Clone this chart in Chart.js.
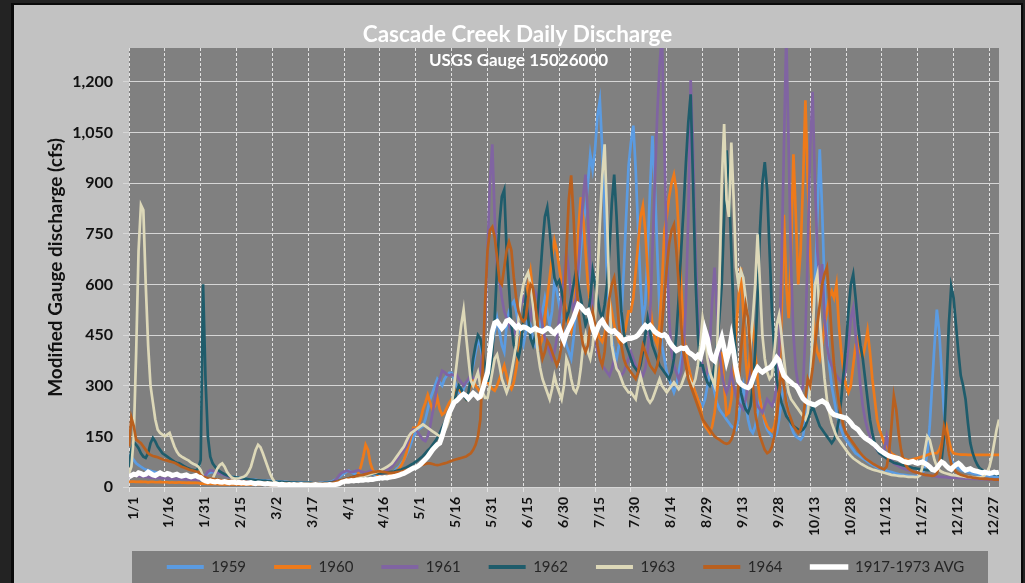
<!DOCTYPE html>
<html>
<head>
<meta charset="utf-8">
<title>Cascade Creek Daily Discharge</title>
<script src="https://cdn.jsdelivr.net/npm/chart.js@4.4.1/dist/chart.umd.min.js"></script>
<style>
  html, body { margin: 0; padding: 0; background: #1f1f1f; overflow: hidden; }
  canvas { display: block; }
</style>
</head>
<body>
<canvas id="chart" width="1025" height="583"></canvas>
<script>
// Axis ticks: day-of-year positions (every 15 days) and their date labels
const xTickDays = [0, 15, 30, 45, 60, 75, 90, 105, 120, 135, 150, 165, 180, 195, 210, 225, 240, 255, 270, 285, 300, 315, 330, 345, 360];
const xTickLabels = ['1/1', '1/16', '1/31', '2/15', '3/2', '3/17', '4/1', '4/16', '5/1', '5/16', '5/31', '6/15', '6/30', '7/15', '7/30', '8/14', '8/29', '9/13', '9/28', '10/13', '10/28', '11/12', '11/27', '12/12', '12/27'];
const yTickValues = [0, 150, 300, 450, 600, 750, 900, 1050, 1200];

const seriesNames = ['1959', '1960', '1961', '1962', '1963', '1964', '1917-1973 AVG'];

// Daily discharge (cfs), Jan 1 .. Dec 31, 15 days per line
const q1959 = [
  95,90,80,70,65,60,55,52,50,48,46,44,42,40,40,
  38,37,36,35,34,33,33,32,32,31,30,30,29,29,28,
  28,30,35,40,42,45,44,42,40,38,36,34,32,30,29,
  28,27,26,25,24,23,22,22,21,20,20,19,19,18,18,
  17,17,16,16,15,15,15,14,14,14,13,13,13,12,12,
  12,12,11,11,11,12,12,13,14,15,17,20,25,30,35,
  40,45,48,44,40,38,36,35,34,36,40,42,38,35,33,
  32,30,30,32,35,40,45,55,60,70,80,95,110,130,150,
  160,170,175,180,200,230,260,280,300,320,310,300,320,330,338,
  338,320,300,280,270,290,310,314,330,360,400,433,420,380,360,
  340,380,420,460,500,460,420,400,480,520,540,550,520,480,440,
  420,460,500,480,440,420,440,480,520,560,520,480,520,611,580,
  540,500,460,420,400,380,440,520,600,700,780,820,900,985,940,
  1000,1100,1145,1000,800,620,500,440,400,380,420,500,640,800,950,
  1020,1070,940,760,600,500,540,700,880,1040,900,700,520,420,380,
  340,320,300,280,300,340,380,420,400,360,330,300,280,260,250,
  240,260,300,340,320,280,250,230,220,210,200,190,180,175,170,
  200,260,300,250,200,170,160,180,220,260,230,190,170,160,150,
  145,160,200,260,300,260,220,180,160,150,145,140,150,200,260,
  340,450,600,800,1000,820,600,450,360,300,260,220,190,170,150,
  140,130,120,110,100,95,90,85,80,75,70,66,62,58,55,
  52,50,48,46,44,42,40,38,37,36,35,34,33,32,32,
  32,34,40,60,100,180,300,420,525,460,340,220,140,100,80,
  70,60,55,50,48,46,44,42,40,38,37,36,35,34,33,
  32,32,31,31,30
];

const q1960 = [
  15,16,16,15,15,16,15,15,14,15,15,14,14,15,14,
  14,14,13,14,13,13,14,13,13,12,13,12,12,12,12,
  10,10,10,9,9,9,9,9,8,8,8,8,8,8,8,
  8,8,7,7,7,7,7,7,7,7,7,7,7,7,6,
  6,6,6,6,6,6,6,6,6,6,6,6,6,6,6,
  6,6,6,6,6,6,6,7,7,7,8,8,9,10,12,
  14,16,18,20,24,30,40,60,90,125,110,70,50,40,35,
  32,30,30,32,35,38,42,48,55,65,80,100,125,150,175,
  175,180,200,230,250,273,250,228,240,264,230,214,220,235,250,
  260,270,285,290,280,270,260,280,300,315,300,290,280,300,315,
  310,300,290,285,300,320,340,360,330,300,290,310,350,400,450,
  500,560,600,640,580,520,460,420,440,500,560,620,680,730,700,
  650,600,560,520,480,460,500,600,760,858,800,700,600,540,520,
  480,460,440,430,450,500,560,520,480,450,430,420,440,480,520,
  520,560,640,720,800,833,760,640,540,480,440,420,480,600,760,
  800,860,900,925,880,760,600,460,400,360,330,300,280,260,240,
  200,180,170,160,180,220,280,340,400,300,214,220,260,340,460,
  560,650,520,380,300,420,480,400,320,260,220,200,180,170,165,
  180,220,300,500,806,600,500,700,985,800,600,700,900,1145,900,
  700,540,440,400,380,420,480,520,560,580,560,600,480,400,340,
  300,280,300,360,420,440,400,380,420,463,400,320,260,200,170,
  150,130,120,110,100,95,90,88,86,84,82,80,80,82,84,
  86,88,90,92,95,98,100,100,100,110,130,160,180,140,110,
  100,98,97,96,96,96,95,95,95,95,95,95,95,95,95,
  95,95,95,95,95
];

const q1961 = [
  30,32,34,33,32,31,30,30,29,28,28,27,27,26,26,
  26,25,25,25,24,24,24,23,23,23,22,22,22,22,21,
  21,25,35,45,50,48,45,42,40,38,35,32,30,28,26,
  24,22,20,19,18,17,16,15,15,14,14,13,13,12,12,
  12,11,11,11,10,10,10,10,9,9,9,9,9,9,9,
  9,9,9,9,9,9,10,10,11,12,14,18,25,35,42,
  45,48,46,44,45,48,50,46,44,42,45,48,44,42,40,
  38,40,45,50,55,60,70,80,90,100,110,120,140,160,170,
  170,160,150,140,136,150,180,220,260,300,320,344,340,333,330,
  333,330,333,320,310,300,310,320,330,323,320,323,340,400,500,
  700,900,1015,800,650,610,560,520,500,480,460,450,470,500,540,
  560,540,520,500,540,576,560,520,480,440,420,400,380,400,440,
  500,560,620,700,640,560,520,560,650,760,860,925,800,640,520,
  450,400,380,360,350,340,330,350,380,360,340,330,340,360,380,
  400,380,360,350,340,330,350,400,500,700,900,1100,1250,1340,1000,
  700,500,400,360,340,320,340,400,550,800,1205,1000,700,500,400,
  350,330,340,420,550,650,520,400,340,300,280,300,340,300,270,
  250,240,230,260,300,340,300,260,240,230,220,240,260,250,240,
  260,300,400,650,1000,1340,1000,650,450,350,300,280,300,450,700,
  1000,1170,900,700,600,660,500,420,380,360,340,330,320,310,320,
  350,420,500,530,450,380,300,240,200,170,150,130,120,110,100,
  95,110,150,110,80,70,66,62,58,55,52,50,48,46,44,
  42,40,38,36,35,34,33,32,31,30,30,29,29,28,28,
  28,27,27,26,26,25,25,25,24,24,24,23,23,23,22,
  22,22,22,21,21
];

const q1962 = [
  60,110,133,125,115,100,90,86,100,130,145,135,120,110,100,
  95,90,85,80,75,72,70,66,62,58,55,52,50,48,55,
  80,600,320,150,90,70,60,52,46,42,38,35,32,30,29,
  28,27,26,25,24,23,22,21,20,20,19,18,18,17,17,
  16,16,15,15,15,14,14,14,13,13,13,12,12,12,12,
  12,12,11,11,11,11,11,12,12,13,14,15,16,18,20,
  22,24,26,28,30,32,33,34,35,36,37,38,39,40,40,
  40,41,42,43,44,45,46,48,50,52,55,58,62,66,70,
  75,80,86,92,100,108,115,125,135,145,160,175,190,205,220,
  235,250,280,300,290,270,260,280,320,380,420,450,440,400,360,
  315,315,400,500,650,780,860,880,700,590,480,420,400,383,420,
  500,560,500,440,420,450,520,620,720,800,828,760,680,620,600,
  611,580,540,500,520,560,600,640,600,560,520,480,500,560,640,
  600,560,520,500,540,600,700,840,925,800,640,520,460,420,400,
  380,360,350,340,360,400,450,500,460,420,400,380,360,350,340,
  330,320,340,380,450,560,700,820,960,1080,1163,900,620,450,360,
  360,330,310,300,320,360,420,500,600,800,997,900,700,500,380,
  320,280,250,230,220,240,300,400,560,760,900,962,880,700,520,
  400,320,280,250,230,210,200,190,180,175,170,165,170,180,200,
  220,240,220,200,180,170,160,150,140,130,140,160,200,260,340,
  420,520,600,630,560,480,420,380,320,260,200,160,130,110,100,
  95,90,85,80,76,72,70,68,66,64,62,60,58,56,55,
  54,53,52,51,50,50,50,52,55,60,80,150,300,480,594,
  560,480,400,330,300,260,190,130,100,80,65,55,50,46,44,
  42,40,38,37,36
];

const q1963 = [
  40,60,150,400,700,835,820,600,420,300,250,200,170,160,155,
  150,155,160,140,120,105,95,90,86,82,78,72,68,65,60,
  50,30,22,20,20,25,40,55,65,70,60,45,35,28,25,
  25,26,28,30,35,45,60,85,110,125,118,100,80,60,40,
  25,15,12,10,9,8,8,7,7,7,6,6,6,6,6,
  6,6,6,6,6,6,6,6,6,6,7,8,10,12,15,
  18,20,22,24,25,26,28,30,32,34,36,38,40,42,45,
  48,52,56,60,65,70,80,90,100,110,120,135,150,160,165,
  170,175,180,185,180,175,170,165,160,155,150,155,165,180,200,
  240,300,360,420,480,525,450,380,315,300,320,340,300,280,264,
  264,300,340,380,392,360,320,300,280,300,340,380,420,500,560,
  600,620,635,600,540,470,400,353,320,300,280,260,290,330,300,
  280,260,300,380,360,320,290,280,300,350,420,450,400,380,420,
  500,620,780,920,1015,800,560,420,380,350,340,320,300,290,280,
  280,270,260,300,330,300,280,260,250,260,280,300,320,300,290,
  280,290,300,310,300,290,300,320,340,330,310,300,320,360,420,
  500,460,380,340,320,300,400,600,900,1075,850,800,1020,850,650,
  600,640,620,560,480,420,500,600,748,600,450,380,340,320,330,
  400,480,510,450,380,320,280,260,250,240,230,220,210,200,220,
  300,450,600,630,500,400,320,260,220,190,170,150,140,130,120,
  110,100,92,85,80,75,70,66,62,58,55,52,50,48,46,
  44,42,40,38,36,35,34,33,32,32,31,30,30,30,29,
  30,35,60,110,150,140,110,80,60,50,45,42,40,38,36,
  35,34,33,32,31,30,30,29,29,28,28,28,30,35,45,
  60,90,130,170,200
];

const q1964 = [
  120,205,180,140,135,130,120,110,100,95,92,90,88,85,82,
  80,78,76,74,72,68,64,60,58,55,52,50,48,46,45,
  35,30,28,26,25,24,23,22,21,20,20,19,18,18,17,
  17,16,16,15,15,14,14,14,13,13,13,12,12,12,12,
  11,11,11,10,10,10,10,10,9,9,9,9,9,9,9,
  9,9,9,9,9,9,9,10,10,11,12,14,16,18,20,
  22,24,26,28,30,32,34,35,36,38,40,42,44,45,46,
  46,45,44,43,42,42,43,44,45,46,48,50,52,55,58,
  60,62,65,66,68,70,70,68,66,65,66,68,70,72,75,
  78,80,82,84,86,88,90,95,100,110,125,150,200,350,550,
  700,760,770,740,680,611,600,650,700,725,700,620,560,520,500,
  490,500,560,600,590,540,480,420,380,400,433,420,400,380,360,
  380,420,500,700,850,923,800,640,520,460,420,400,420,480,520,
  480,420,380,360,400,480,560,600,620,560,480,420,380,360,350,
  340,330,320,340,380,420,400,380,360,350,340,360,400,480,560,
  650,720,760,777,700,600,480,400,360,320,300,280,260,240,220,
  200,190,180,170,160,150,145,140,135,130,128,130,140,160,200,
  300,400,480,540,500,400,300,220,180,150,130,110,100,105,120,
  150,200,280,350,300,250,220,200,180,170,160,170,200,260,320,
  300,350,420,480,540,600,630,650,560,450,360,300,250,210,180,
  160,150,140,130,120,110,100,92,85,80,75,70,66,62,58,
  55,52,60,100,180,270,230,160,110,80,65,55,50,46,44,
  42,40,38,36,35,34,33,34,40,70,120,178,150,100,70,
  55,45,40,36,34,32,30,29,28,27,26,25,25,24,24,
  23,23,22,22,22
];

const qAvg = [
  30,34,38,36,42,40,36,38,44,40,36,34,38,42,38,
  36,40,38,34,36,38,34,32,34,36,32,30,32,34,30,
  28,22,18,16,18,16,15,17,15,14,16,14,13,15,14,
  13,14,12,13,11,12,13,11,10,12,11,10,9,10,9,
  8,9,8,7,8,7,6,7,6,7,6,6,7,6,6,
  6,5,6,7,6,6,5,6,6,7,6,7,8,10,14,
  16,18,17,19,18,20,19,21,20,22,21,23,22,24,25,
  27,26,28,27,29,30,31,33,35,38,40,44,48,52,56,
  58,62,68,75,82,90,100,110,118,125,130,150,175,200,220,
  235,250,255,262,270,275,270,262,270,278,272,264,268,290,315,
  338,400,460,486,490,480,470,478,492,495,488,480,472,478,470,
  474,472,468,462,466,470,465,463,460,465,470,468,460,455,465,
  472,450,433,455,470,485,500,520,540,535,525,518,522,500,470,
  451,470,485,493,480,470,463,460,463,455,450,440,433,438,440,
  440,442,445,450,460,470,478,472,478,470,460,455,451,448,451,
  445,430,420,412,404,408,412,410,412,400,395,390,383,390,383,
  410,463,440,400,380,374,400,420,442,410,374,400,442,400,350,
  315,305,300,296,294,300,320,340,353,345,340,345,350,353,360,
  370,383,375,350,330,323,315,310,303,300,290,275,262,255,250,
  248,245,243,248,252,255,250,245,230,220,214,212,210,208,206,
  205,198,190,180,175,170,160,152,145,140,136,130,125,118,110,
  105,100,96,92,90,88,86,84,80,76,74,72,74,76,72,
  70,72,74,70,66,60,52,50,56,66,74,70,62,56,52,
  60,66,70,64,56,50,52,54,50,48,46,44,42,44,42,
  40,42,44,42,44
];

const seriesValues = [q1959, q1960, q1961, q1962, q1963, q1964, qAvg];
const seriesColors = ['#5b9be1', '#ee7a1a', '#8064a2', '#1f5c6b', '#ddd8b8', '#b9601f', '#ffffff'];
const seriesWidths = [2.7, 2.7, 2.7, 2.7, 2.7, 2.7, 5];

const chartTitle = 'Cascade Creek Daily Discharge';
const chartSubtitle = 'USGS Gauge 15026000';
const axisTitle = 'Modified Gauge discharge (cfs)';

const FONT = 'Lato';
const PANEL = { left: 14, top: 5, right: 1021 };
const AXIS_BAND = 64;   // height reserved for the rotated date labels

// Backgrounds (frame, panel, plot, legend band), legend placement and the titles
const framePlugin = {
  id: 'frame',
  beforeDraw(chart) {
    const { ctx, chartArea: a, width, height } = chart;
    ctx.save();
    ctx.fillStyle = '#232323';
    ctx.fillRect(0, 0, width, height);
    ctx.fillStyle = '#0a0a0a';
    ctx.fillRect(PANEL.left - 3, PANEL.top - 2, PANEL.right - PANEL.left + 5, height);
    ctx.fillStyle = '#c2c2c2';
    ctx.fillRect(PANEL.left, PANEL.top, PANEL.right - PANEL.left, height - PANEL.top);
    ctx.fillStyle = '#808080';
    ctx.fillRect(a.left, a.top, a.right - a.left, a.bottom - a.top);

    const bandTop = a.bottom + AXIS_BAND;
    const bandLeft = a.left + 3;
    const bandRight = a.right - 11;
    ctx.fillStyle = '#7f7f7f';
    ctx.fillRect(bandLeft, bandTop, bandRight - bandLeft, height - bandTop);
    ctx.restore();

    const lg = chart.legend;
    if (lg) {
      const lab = lg.options.labels;
      lg.left = bandLeft;
      lg.right = a.right;
      lg.top = bandTop + 16 - lab.padding - lab.font.size / 2;
      lg.bottom = height;
    }
  },
  afterDraw(chart) {
    const { ctx } = chart;
    const cx = (PANEL.left + PANEL.right) / 2;
    ctx.save();
    ctx.fillStyle = '#ffffff';
    ctx.textAlign = 'center';
    ctx.textBaseline = 'alphabetic';
    ctx.font = 'bold 22.5px ' + FONT;
    ctx.fillText(chartTitle, cx, 42);
    ctx.font = 'bold 17px ' + FONT;
    ctx.fillText(chartSubtitle, cx + 1, 66);
    ctx.restore();
  }
};

function buildChart() {
  const n = seriesNames.length;
  const datasets = seriesNames.map((name, k) => ({
    label: name,
    data: seriesValues[k].map((v, i) => ({ x: i, y: v })),
    borderColor: seriesColors[k],
    backgroundColor: seriesColors[k],
    borderWidth: seriesWidths[k],
    pointRadius: 0,
    tension: 0,
    fill: false,
    order: n - 1 - k   // later years drawn above earlier ones, average on top
  }));

  new Chart(document.getElementById('chart'), {
    type: 'line',
    data: { datasets },
    plugins: [framePlugin],
    options: {
      responsive: false,
      animation: false,
      devicePixelRatio: 1,
      events: [],
      layout: { padding: { left: PANEL.left, right: 26, top: 48, bottom: 0 } },
      scales: {
        x: {
          type: 'linear',
          min: 0,
          max: 364,
          afterBuildTicks: s => { s.ticks = xTickDays.map(v => ({ value: v })); },
          afterFit: s => { s.height = AXIS_BAND; },
          grid: { color: '#e2e2e2', lineWidth: 1, tickLength: 5 },
          border: { display: false, dash: [3, 2] },
          ticks: {
            autoSkip: false,
            minRotation: 90,
            maxRotation: 90,
            padding: 5,
            labelOffset: 4,
            color: '#111111',
            font: { family: FONT, size: 14, weight: 'bold' },
            callback: (v, i) => xTickLabels[i]
          }
        },
        y: {
          min: 0,
          max: 1300,
          afterBuildTicks: s => { s.ticks = yTickValues.map(v => ({ value: v })); },
          afterFit: s => { s.width = 115; },
          grid: { color: '#d6d6d6', lineWidth: 1, tickLength: 6 },
          border: { display: false },
          ticks: {
            padding: 10,
            color: '#111111',
            font: { family: FONT, size: 16, weight: 'bold' },
            callback: v => v.toLocaleString('en-US')
          },
          title: {
            display: true,
            text: axisTitle,
            color: '#111111',
            font: { family: FONT, size: 19, weight: 'bold' },
            padding: { top: 30, bottom: 0 }
          }
        }
      },
      plugins: {
        tooltip: { enabled: false },
        legend: {
          position: 'bottom',
          maxHeight: 32,
          labels: {
            boxWidth: 37,
            boxHeight: 4,
            padding: 28,
            color: '#262626',
            font: { family: FONT, size: 15 },
            sort: (a, b) => a.datasetIndex - b.datasetIndex,
            generateLabels(chart) {
              const items = Chart.defaults.plugins.legend.labels.generateLabels(chart);
              return items.map(it => {
                const ds = chart.data.datasets[it.datasetIndex];
                it.fillStyle = ds.borderColor;
                it.strokeStyle = ds.borderColor;
                it.lineWidth = ds.borderWidth > 3 ? 1.5 : 0;
                return it;
              });
            }
          }
        }
      }
    }
  });
}

Promise.all([
  document.fonts.load('bold 16px ' + FONT),
  document.fonts.load('15px ' + FONT)
]).then(buildChart, buildChart);
</script>
</body>
</html>
